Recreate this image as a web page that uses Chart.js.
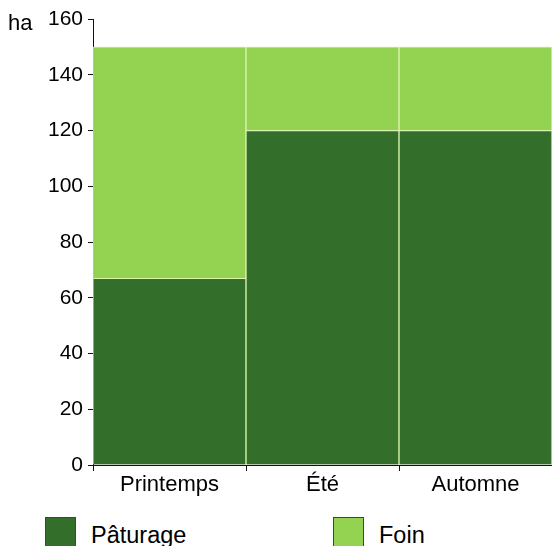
<!DOCTYPE html>
<html>
<head>
<meta charset="utf-8">
<script src="https://cdn.jsdelivr.net/npm/chart.js@4"></script>
<style>
  html, body { margin: 0; padding: 0; background: #fff; overflow: hidden; }
  body { width: 552px; height: 546px; position: relative; font-family: "Liberation Sans", Arial, sans-serif; }
  #wrap { position: absolute; left: 0; top: 0; width: 552px; height: 500px; }
  .leg { position: absolute; top: 517px; display: flex; align-items: flex-start; }
  .leg span.box { width: 31px; height: 31px; box-sizing: border-box; border: 1px solid #3a4a2a; }
  .leg span.txt { font-size: 23.5px; color: #000; margin-left: 15px; margin-top: 5px; line-height: 26px; }
</style>
</head>
<body>
<div id="wrap"><canvas id="chart"></canvas></div>
<div id="legend"></div>
<script>
const categories = ["Printemps", "Été", "Automne"];
const paturage = [67, 120, 120];
const foin = [83, 30, 30];
const yTicks = [0, 20, 40, 60, 80, 100, 120, 140, 160];
const unitLabel = "ha";

const darkGreen = "#336e2b";
const lightGreen = "#94d252";
const edge = "rgba(215,245,160,0.85)";
const fontFamily = "'Liberation Sans', Arial, sans-serif";

const unitPlugin = {
  id: "unit",
  afterDraw(chart) {
    const ctx = chart.ctx;
    const y = chart.scales.y.getPixelForValue(160);
    ctx.save();
    ctx.font = "22px " + fontFamily;
    ctx.fillStyle = "#000";
    ctx.textBaseline = "middle";
    ctx.textAlign = "left";
    ctx.fillText(unitLabel, 8, y + 5);
    ctx.restore();
  }
};

const datasets = [
  { label: "Pâturage", data: paturage, backgroundColor: darkGreen },
  { label: "Foin", data: foin, backgroundColor: lightGreen }
];

const chart = new Chart(document.getElementById("chart"), {
  type: "bar",
  data: {
    labels: categories,
    datasets: datasets.map((d) => ({
      ...d,
      borderColor: edge,
      borderWidth: 1,
      borderSkipped: "bottom",
      barPercentage: 1,
      categoryPercentage: 1
    }))
  },
  options: {
    responsive: true,
    maintainAspectRatio: false,
    animation: false,
    layout: { padding: { top: 19, right: 0, left: 0, bottom: 0 } },
    plugins: {
      legend: { display: false },
      tooltip: { enabled: false }
    },
    scales: {
      x: {
        stacked: true,
        afterFit: (s) => { s.height = 35; },
        border: { color: "#111", width: 1 },
        grid: { display: true, drawOnChartArea: false, tickLength: 6, color: "#111", offset: true },
        ticks: { color: "#000", font: { size: 22, family: fontFamily }, padding: 1 }
      },
      y: {
        stacked: true,
        min: 0,
        max: 160,
        afterFit: (s) => { s.width = 93; },
        afterBuildTicks: (s) => { s.ticks = yTicks.map((v) => ({ value: v })); },
        border: { color: "#111", width: 1 },
        grid: { drawOnChartArea: false, tickLength: 5, color: "#111" },
        ticks: { color: "#000", font: { size: 21, family: fontFamily }, padding: 5 }
      }
    }
  },
  plugins: [unitPlugin]
});

// legend built from the chart's datasets
const legendLeft = [45, 333];
const legend = document.getElementById("legend");
chart.data.datasets.forEach((d, i) => {
  const item = document.createElement("div");
  item.className = "leg";
  item.style.left = legendLeft[i] + "px";
  item.innerHTML = '<span class="box" style="background:' + d.backgroundColor + '"></span><span class="txt">' + d.label + "</span>";
  legend.appendChild(item);
});
</script>
</body>
</html>
